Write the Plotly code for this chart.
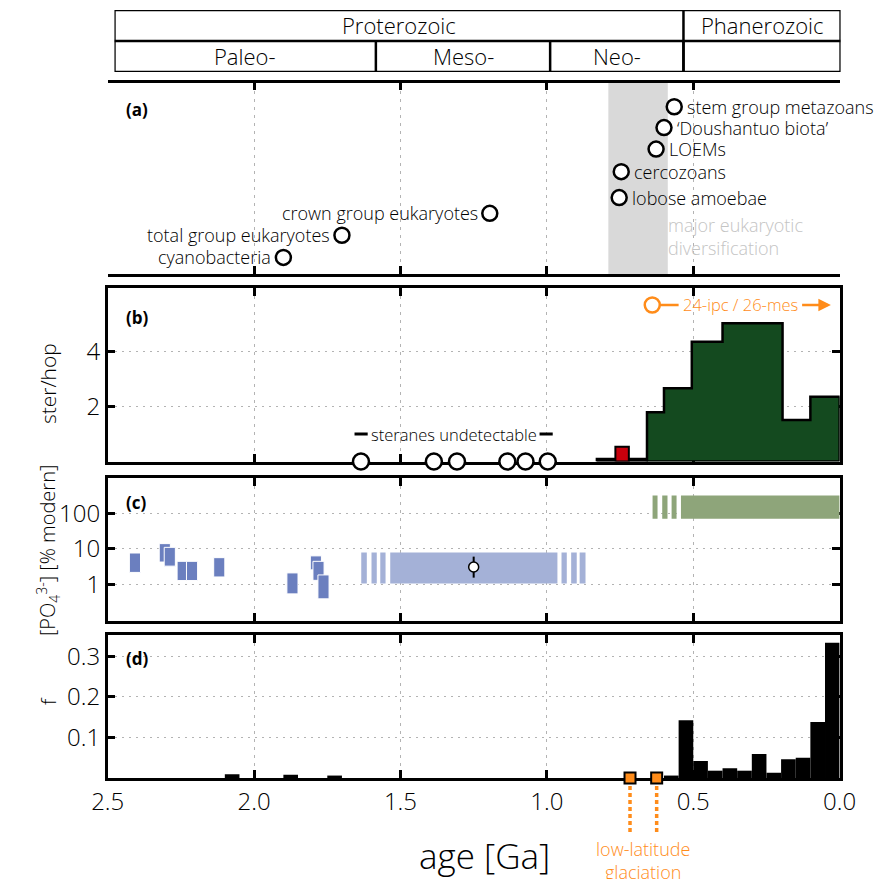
import plotly.graph_objects as go

# the page shows the figure 8px below the window top; size and place it so it lines up with the window
OFFX, OFFY = 0, 8
W, H = 890 - OFFX, 879 - OFFY

# ---------------- data ----------------
age_ticks = [2.5, 2.0, 1.5, 1.0, 0.5, 0.0]
age_tick_labels = ["2.5", "2.0", "1.5", "1.0", "0.5", "0.0"]

eon_names = ["Proterozoic", "Phanerozoic"]
eon_bounds = [2.5, 0.541, 0.0]
era_names = ["Paleo-", "Meso-", "Neo-", ""]
era_bounds = [2.5, 1.6, 1.0, 0.541, 0.0]

# panel (a)
taxa = ["stem group metazoans", "\u2018Doushantuo biota\u2019", "LOEMs", "cercozoans",
        "lobose amoebae", "crown group eukaryotes", "total group eukaryotes", "cyanobacteria"]
taxa_age = [0.565, 0.600, 0.627, 0.746, 0.753, 1.195, 1.700, 1.900]
taxa_row = [7.86, 6.88, 5.87, 4.81, 3.59, 2.85, 1.82, 0.78]
taxa_side = ["right", "right", "right", "right", "right", "left", "left", "left"]
diversification = [0.79, 0.587]

# panel (b)
ster_hop_edges = [0.658, 0.600, 0.505, 0.400, 0.195, 0.100, 0.0]
ster_hop_vals = [1.80, 2.67, 4.37, 5.04, 1.51, 2.36]
low_edges = [0.83, 0.766, 0.72, 0.658]
low_vals = [0.10, 0.10, 0.10]
red_edges = [0.766, 0.72]
red_vals = [0.54]
undetect_ages = [1.635, 1.386, 1.307, 1.135, 1.073, 0.997]
steranes_span = [1.657, 0.98]
steranes_level = 1.0
ipc_age = 0.64
ipc_val = 5.71
ipc_arrow = [0.135, 0.03]

# panel (c)
po4_age = [2.407, 2.305, 2.288, 2.244, 2.212, 2.119, 1.869, 1.789, 1.780, 1.763]
po4_low = [2.2, 4.3, 3.3, 1.3, 1.3, 1.64, 0.55, 2.6, 1.32, 0.40]
po4_high = [7.7, 14.1, 11.1, 4.5, 4.5, 5.7, 2.13, 6.4, 4.5, 1.87]
po4_width = 0.038
blue_band_solid = [1.535, 0.964]
blue_band_range = [1.07, 8.0]
blue_stripes = [(1.634, 1.615), (1.599, 1.581), (1.569, 1.551),
                (0.950, 0.932), (0.917, 0.898), (0.888, 0.868)]
green_band_solid = [0.542, 0.0]
green_band_range = [70, 318]
green_stripes = [(0.639, 0.622), (0.606, 0.588), (0.574, 0.557)]
point_age = [1.25]
point_val = [3.13]
point_hi = [6.1]
point_lo = [1.57]

# panel (d)
f_bin_old = [2.10, 1.90, 1.75, 0.60, 0.55, 0.50, 0.45, 0.40, 0.35, 0.30, 0.25, 0.20, 0.15, 0.10, 0.05]
f_vals = [0.009, 0.008, 0.006, 0.006, 0.142, 0.042, 0.018, 0.024, 0.018, 0.059, 0.013, 0.046, 0.050, 0.138, 0.333]
f_bin_width = 0.05
glac_ages = [0.716, 0.625]

# ---------------- styling ----------------
FONT = "Open Sans"
ORANGE = "#ff8c1a"
DGREEN = "#144a1f"
RED = "#c8000c"
BLUE_D = "#6b7fbf"
BLUE_L = "#a4b1d7"
GREEN_L = "#8ea57a"
GRID = "#b3b3b3"


def px(x):
    return (x - OFFX) / W


def py(y):
    return 1 - (y - OFFY) / H


XDOM = [px(86), px(847)]
DOM = {1: (82.5, 274), 2: (288, 461.5), 3: (478, 621), 4: (635, 778)}


def step_polygon(edges, vals):
    xs, ys = [edges[0]], [0]
    for i, v in enumerate(vals):
        xs += [edges[i], edges[i + 1]]
        ys += [v, v]
    xs += [edges[-1], edges[0]]
    ys += [0, 0]
    return xs, ys


def rects(x0s, x1s, y0s, y1s):
    xs, ys = [], []
    for a, b, c, d in zip(x0s, x1s, y0s, y1s):
        xs += [a, b, b, a, a, None]
        ys += [c, c, d, d, c, None]
    return xs, ys


fig = go.Figure()

# ---- panel a ----
fig.add_trace(go.Scatter(x=taxa_age, y=taxa_row, mode="markers", xaxis="x", yaxis="y",
                         marker=dict(symbol="circle", size=15, color="white",
                                     line=dict(color="black", width=2.5)),
                         cliponaxis=False, hoverinfo="skip"))

# ---- panel b ----
lx, ly = step_polygon(low_edges, low_vals)
fig.add_trace(go.Scatter(x=lx, y=ly, mode="lines", fill="toself", fillcolor="black",
                         line=dict(color="black", width=2), xaxis="x2", yaxis="y2", hoverinfo="skip"))
rx, ry = step_polygon(red_edges, red_vals)
fig.add_trace(go.Scatter(x=rx, y=ry, mode="lines", fill="toself", fillcolor=RED,
                         line=dict(color="black", width=2), xaxis="x2", yaxis="y2", hoverinfo="skip"))
gx, gy = step_polygon(ster_hop_edges, ster_hop_vals)
fig.add_trace(go.Scatter(x=gx, y=gy, mode="lines", fill="toself", fillcolor=DGREEN,
                         line=dict(color="black", width=2.5), xaxis="x2", yaxis="y2", hoverinfo="skip"))
fig.add_trace(go.Scatter(x=undetect_ages, y=[0] * len(undetect_ages), mode="markers",
                         xaxis="x2", yaxis="y2", cliponaxis=False,
                         marker=dict(symbol="circle", size=16, color="white",
                                     line=dict(color="black", width=2.5)), hoverinfo="skip"))
fig.add_trace(go.Scatter(x=[ipc_age], y=[ipc_val], mode="markers", xaxis="x2", yaxis="y2",
                         marker=dict(symbol="circle-open", size=15, color=ORANGE,
                                     line=dict(color=ORANGE, width=2.5)), hoverinfo="skip"))

# ---- panel c ----
bx, by = rects([blue_band_solid[0]] + [s[0] for s in blue_stripes],
               [blue_band_solid[1]] + [s[1] for s in blue_stripes],
               [blue_band_range[0]] * (len(blue_stripes) + 1),
               [blue_band_range[1]] * (len(blue_stripes) + 1))
fig.add_trace(go.Scatter(x=bx, y=by, mode="lines", fill="toself", fillcolor=BLUE_L,
                         line=dict(width=0, color=BLUE_L), xaxis="x3", yaxis="y3", hoverinfo="skip"))
gbx, gby = rects([green_band_solid[0]] + [s[0] for s in green_stripes],
                 [green_band_solid[1]] + [s[1] for s in green_stripes],
                 [green_band_range[0]] * (len(green_stripes) + 1),
                 [green_band_range[1]] * (len(green_stripes) + 1))
fig.add_trace(go.Scatter(x=gbx, y=gby, mode="lines", fill="toself", fillcolor=GREEN_L,
                         line=dict(width=0, color=GREEN_L), xaxis="x3", yaxis="y3", hoverinfo="skip"))
for a, lo, hi in zip(po4_age, po4_low, po4_high):
    xx, yy = rects([a + po4_width / 2], [a - po4_width / 2], [lo], [hi])
    fig.add_trace(go.Scatter(x=xx, y=yy, mode="lines", fill="toself", fillcolor=BLUE_D,
                             line=dict(width=1, color="white"), xaxis="x3", yaxis="y3", hoverinfo="skip"))
fig.add_trace(go.Scatter(x=point_age, y=point_val, mode="markers", xaxis="x3", yaxis="y3",
                         marker=dict(size=10, color="white", line=dict(color="black", width=1.5)),
                         error_y=dict(type="data", symmetric=False,
                                      array=[h - v for h, v in zip(point_hi, point_val)],
                                      arrayminus=[v - l for l, v in zip(point_lo, point_val)],
                                      color="black", thickness=2, width=0),
                         hoverinfo="skip"))

# ---- panel d ----
fig.add_trace(go.Bar(x=[b - f_bin_width / 2 for b in f_bin_old], y=f_vals, width=f_bin_width,
                     marker=dict(color="black", line=dict(width=0)), xaxis="x4", yaxis="y4",
                     hoverinfo="skip"))
fig.add_trace(go.Scatter(x=glac_ages, y=[0] * len(glac_ages), mode="markers", xaxis="x4", yaxis="y4",
                         cliponaxis=False,
                         marker=dict(symbol="square", size=11, color=ORANGE,
                                     line=dict(color="black", width=2)), hoverinfo="skip"))

# ---------------- axes ----------------
def xax(anchor, labels=False):
    return dict(domain=XDOM, anchor=anchor, range=[2.5, 0], tickvals=age_ticks, ticktext=age_tick_labels,
                showline=True, linecolor="black", linewidth=2.5, mirror="ticks", ticks="inside",
                ticklen=8, tickwidth=2.5, tickcolor="black", showgrid=True, gridcolor=GRID,
                gridwidth=1, griddash="3px,5px", zeroline=False, showticklabels=labels,
                layer="below traces", tickfont=dict(size=24, family=FONT, weight=300))


def yax(n, **kw):
    d = dict(domain=[py(DOM[n][1]), py(DOM[n][0])], anchor="x" if n == 1 else f"x{n}",
             showline=True, linecolor="black", linewidth=2.5, mirror="ticks", ticks="inside",
             ticklen=8, tickwidth=2.5, tickcolor="black", showgrid=True, gridcolor=GRID,
             gridwidth=1, griddash="2px,5px", zeroline=False, layer="below traces",
             tickfont=dict(size=24, family=FONT, weight=300))
    d.update(kw)
    return d


layout = dict(
    width=W, height=H, margin=dict(l=0, r=0, t=0, b=0), showlegend=False,
    plot_bgcolor="white", paper_bgcolor="white",
    font=dict(family=FONT, weight=300, color="black"),
    xaxis=xax("y"),
    yaxis=dict(domain=[py(DOM[1][1]), py(DOM[1][0])], anchor="x", range=[0, 9], visible=False),
    xaxis2=xax("y2"),
    yaxis2=yax(2, range=[0, 6.33], tickvals=[2, 4]),
    xaxis3=xax("y3"),
    yaxis3=yax(3, type="log", range=[-1.02, 2.99], tickvals=[1, 10, 100], ticktext=["1", "10", "100"]),
    xaxis4=xax("y4", labels=True),
    yaxis4=yax(4, range=[0, 0.352], tickvals=[0.1, 0.2, 0.3], ticktext=["0.1", "0.2", "0.3"]),
    xaxis5=dict(domain=[px(93), px(848)], anchor="y5", range=[2.5, 0], visible=False),
    yaxis5=dict(domain=[py(72), py(10)], anchor="x5", range=[0, 2], visible=False),
)
fig.update_layout(**layout)

shapes = []
# header
shapes.append(dict(type="rect", xref="x5", yref="y5", x0=eon_bounds[0], x1=eon_bounds[-1], y0=0, y1=2,
                   line=dict(color="black", width=2.5)))
shapes.append(dict(type="line", xref="x5", yref="y5", x0=eon_bounds[0], x1=eon_bounds[-1], y0=1, y1=1,
                   line=dict(color="black", width=2.5)))
for b in eon_bounds[1:-1]:
    shapes.append(dict(type="line", xref="x5", yref="y5", x0=b, x1=b, y0=0, y1=2,
                       line=dict(color="black", width=2.5)))
for b in era_bounds[1:-1]:
    shapes.append(dict(type="line", xref="x5", yref="y5", x0=b, x1=b, y0=0, y1=1,
                       line=dict(color="black", width=2.5)))
# diversification band
shapes.append(dict(type="rect", xref="x", yref="y domain", x0=diversification[0], x1=diversification[1],
                   y0=0, y1=1, fillcolor="#d9d9d9", line=dict(width=0), layer="below"))
# steranes dashes
dash_len = 0.045
for x0, x1 in [(steranes_span[0], steranes_span[0] - dash_len), (steranes_span[1] + dash_len, steranes_span[1])]:
    shapes.append(dict(type="line", xref="x2", yref="y2", x0=x0, x1=x1, y0=steranes_level, y1=steranes_level,
                       line=dict(color="black", width=3)))
# orange connector
shapes.append(dict(type="line", xref="x2", yref="y2", x0=ipc_age - 0.023, x1=ipc_age - 0.09,
                   y0=ipc_val, y1=ipc_val, line=dict(color=ORANGE, width=2.5)))
# glaciation dotted lines
for g in glac_ages:
    shapes.append(dict(type="line", xref="x4", yref="paper", x0=g, x1=g, y0=py(786), y1=py(834),
                       line=dict(color=ORANGE, width=3.5, dash="4px,3px")))
fig.update_layout(shapes=shapes)

ann = []
C = dict(xanchor="center", yanchor="middle", showarrow=False)
# header text
for i, name in enumerate(eon_names):
    ann.append(dict(xref="x5", yref="y5", x=(eon_bounds[i] + eon_bounds[i + 1]) / 2, y=1.5, text=name,
                    font=dict(size=22, family=FONT, weight=300), **C))
for i, name in enumerate(era_names):
    if name:
        ann.append(dict(xref="x5", yref="y5", x=(era_bounds[i] + era_bounds[i + 1]) / 2, y=0.5, text=name,
                        font=dict(size=22, family=FONT, weight=300), **C))
# taxa
for t, a, r, s in zip(taxa, taxa_age, taxa_row, taxa_side):
    ann.append(dict(xref="x", yref="y", x=a, y=r, text=t, showarrow=False, yanchor="middle",
                    xanchor="left" if s == "right" else "right",
                    xshift=12 if s == "right" else -11, borderpad=0,
                    font=dict(size=18, family=FONT, weight=300)))
ann.append(dict(xref="x", yref="y", x=diversification[1], y=1.76,
                text="major eukaryotic<br>diversification", showarrow=False, xanchor="left",
                yanchor="middle", align="left",
                xshift=-2, font=dict(size=18, family=FONT, weight=300, color="#c4c4c4")))
# steranes text
ann.append(dict(xref="x2", yref="y2", x=sum(steranes_span) / 2, y=steranes_level,
                text="steranes undetectable", font=dict(size=16.5, family=FONT, weight=300), **C))
# ipc text + arrow
ann.append(dict(xref="x2", yref="y2", x=ipc_age - 0.098, y=ipc_val, text="24-ipc / 26-mes",
                showarrow=False, xanchor="left", yanchor="middle",
                font=dict(size=16.5, family=FONT, weight=300, color=ORANGE)))
ann.append(dict(xref="x2", yref="y2", x=ipc_arrow[1], y=ipc_val, ax=ipc_arrow[0], ay=ipc_val,
                axref="x2", ayref="y2", text=" ", showarrow=True, arrowhead=2, arrowsize=1,
                arrowwidth=2.5, arrowcolor=ORANGE, font=dict(size=2)))
# panel labels
for lab, yy in [("(a)", 109.5), ("(b)", 317), ("(c)", 503), ("(d)", 658)]:
    ann.append(dict(xref="paper", yref="paper", x=px(103), y=py(yy), text=lab, showarrow=False,
                    xanchor="left", yanchor="middle", font=dict(size=17, family=FONT, weight=700)))
# y titles
for txt, yy, sz in [("ster/hop", 384, 21), ("[PO<sub>4</sub><sup>3-</sup>] [% modern]", 551, 20), ("f", 701, 21)]:
    ann.append(dict(xref="paper", yref="paper", x=px(24), y=py(yy), text=txt,
                    textangle=-90, font=dict(size=sz, family=FONT, weight=300), **C))
# x title
ann.append(dict(xref="paper", yref="paper", x=px(478), y=py(855), text="age [Ga]",
                font=dict(size=35, family=FONT, weight=300), **C))
# glaciation text
ann.append(dict(xref="x4", yref="paper", x=sum(glac_ages) / 2, y=py(860),
                text="low-latitude<br>glaciation",
                font=dict(size=18, family=FONT, weight=300, color=ORANGE), **C))
fig.update_layout(annotations=ann)

fig.write_html("out.html")
